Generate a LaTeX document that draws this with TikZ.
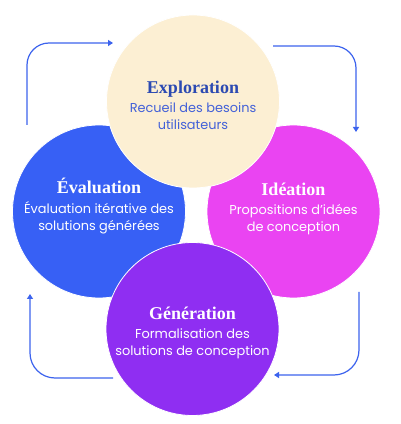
\documentclass[tikz,border=0pt]{standalone}
\usepackage{fontspec}
\setsansfont{Poppins}
\newfontfamily\titlefont{Liberation Serif}
\usetikzlibrary{arrows.meta}
\definecolor{cream}{HTML}{FCEFD3}
\definecolor{titleblue}{HTML}{2C4AB2}
\definecolor{bodyblue}{HTML}{4361D8}
\definecolor{cblue}{HTML}{3760F5}
\definecolor{cmagenta}{HTML}{EA44F2}
\definecolor{cpurple}{HTML}{8F2EF2}
\definecolor{arrowblue}{HTML}{3C63EE}
\tikzset{
  phase/.style={circle, minimum size=173pt, inner sep=0pt, draw=white, line width=0.8pt},
  ptext/.style={align=center, inner sep=0pt, font=\fontsize{12.9}{17}\selectfont\sffamily},
  loop/.style={draw=arrowblue, line width=1.2pt, -{Triangle[width=6pt,length=5pt]}},
}
\newcommand{\ptit}[1]{{\titlefont\fontsize{18}{18}\selectfont\bfseries #1}\\[2.5pt]}
\begin{document}
\begin{tikzpicture}[x=1pt,y=1pt]
\useasboundingbox[fill=white] (0,0) rectangle (400,424);
% lower-level circles
\node[phase, fill=cblue] (eval) at (99,212.5) {};
\node[ptext, text=white] (eval-t) at (99,218)
  {\ptit{Évaluation}Évaluation itérative des\\solutions générées};
\node[phase, fill=cmagenta] (idea) at (293.5,212.5) {};
\node[ptext, text=white] (idea-t) at (293.5,215)
  {\ptit{Idéation}Propositions d’idées\\de conception};
% upper-level circles
\node[phase, fill=cream] (explo) at (193,322.5) {};
\node[ptext, text=bodyblue] (explo-t) at (193,318.5)
  {\ptit{\color{titleblue}Exploration}Recueil des besoins\\utilisateurs};
\node[phase, fill=cpurple] (gen) at (192.5,95) {};
\node[ptext, text=white] (gen-t) at (192.5,91)
  {\ptit{Génération}Formalisation des\\solutions de conception};
% arrow anchors
\coordinate (a1s) at (27,299);
\coordinate (a1c) at (27,381);
\coordinate (a1e) at (113,381);
\coordinate (a2s) at (273,378);
\coordinate (a2c) at (356,378);
\coordinate (a2e) at (356,292);
\coordinate (a3s) at (359,132);
\coordinate (a3c) at (359,49);
\coordinate (a3e) at (274,49);
\coordinate (a4s) at (113,46);
\coordinate (a4c) at (30,46);
\coordinate (a4e) at (30,130);
\draw[loop, rounded corners=22pt] (a1s) -- (a1c) -- (a1e);
\draw[loop, rounded corners=22pt] (a2s) -- (a2c) -- (a2e);
\draw[loop, rounded corners=25pt] (a3s) -- (a3c) -- (a3e);
\draw[loop, rounded corners=25pt] (a4s) -- (a4c) -- (a4e);
\end{tikzpicture}
\end{document}
